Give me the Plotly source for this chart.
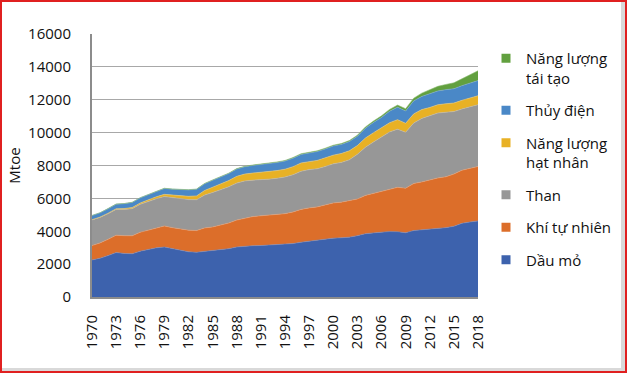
import plotly.graph_objects as go

W, H = 627, 373

years = list(range(1970, 2019))

oil = [2250, 2360, 2520, 2700, 2650, 2630, 2790, 2890, 2990, 3040,
       2930, 2820, 2750, 2720, 2780, 2800, 2880, 2940, 3040, 3090,
       3120, 3130, 3160, 3160, 3200, 3250, 3330, 3400, 3430, 3510,
       3580, 3600, 3640, 3730, 3850, 3900, 3940, 3980, 3970, 3910,
       4040, 4080, 4130, 4180, 4220, 4300, 4480, 4560, 4630]

gas = [880, 930, 990, 1060, 1080, 1095, 1150, 1190, 1230, 1280,
       1290, 1310, 1315, 1320, 1420, 1460, 1490, 1560, 1640, 1710,
       1770, 1810, 1820, 1850, 1870, 1920, 2000, 2020, 2050, 2090,
       2140, 2170, 2210, 2230, 2330, 2400, 2470, 2580, 2700, 2710,
       2860, 2920, 3000, 3060, 3090, 3180, 3230, 3270, 3310]

coal = [1560, 1550, 1560, 1570, 1600, 1650, 1700, 1740, 1760, 1790,
        1820, 1850, 1860, 1880, 2000, 2100, 2150, 2200, 2250, 2260,
        2220, 2190, 2190, 2210, 2230, 2270, 2320, 2330, 2320, 2340,
        2380, 2420, 2500, 2720, 2930, 3130, 3300, 3480, 3540, 3400,
        3680, 3860, 3900, 3950, 3930, 3800, 3730, 3740, 3760]

nuclear = [15, 20, 30, 40, 50, 70, 80, 100, 120, 135,
           150, 180, 200, 230, 280, 320, 350, 380, 410, 420,
           430, 450, 455, 470, 475, 490, 505, 500, 510, 525,
           530, 540, 545, 535, 560, 565, 570, 560, 580, 545,
           560, 540, 500, 505, 515, 520, 525, 530, 545]

hydro = [250, 260, 275, 280, 300, 310, 315, 320, 340, 360,
         370, 380, 390, 400, 410, 420, 425, 430, 445, 445,
         460, 470, 470, 490, 495, 515, 520, 530, 535, 540,
         555, 550, 560, 565, 600, 625, 645, 700, 760, 750,
         790, 800, 830, 840, 860, 870, 890, 900, 920]

renew = [5, 5, 5, 6, 6, 7, 7, 8, 8, 9,
         10, 12, 14, 16, 18, 20, 22, 24, 26, 28,
         30, 32, 34, 36, 38, 40, 42, 44, 46, 48,
         50, 55, 60, 65, 75, 85, 95, 110, 125, 140,
         165, 200, 240, 280, 315, 360, 420, 500, 600]

series_names = ["Dầu mỏ", "Khí tự nhiên", "Than", "Năng lượng<br>hạt nhân",
                "Thủy điện", "Năng lượng<br>tái tạo"]
series_values = [oil, gas, coal, nuclear, hydro, renew]
colors = ["#3d62ad", "#dc6e2a", "#979797", "#e8b125", "#4a88c7", "#62a03f"]
edge_colors = ["#6a86c2", "#e99a6a", "#b5b5b5", "#efc86a", "#7aa7d6", "#8cbb72"]

y_ticks = list(range(0, 16001, 2000))
x_ticks = list(range(1970, 2019, 3))

FONT = "Open Sans, Noto Sans, DejaVu Sans, sans-serif"

fig = go.Figure()
for name, vals, col, ecol in zip(series_names, series_values, colors, edge_colors):
    fig.add_trace(go.Scatter(
        x=years, y=vals, name=name, stackgroup="one", mode="lines",
        line=dict(width=0.6, color=ecol), fillcolor=col,
        showlegend=False, hoverinfo="skip",
    ))

# legend entries as small squares (top of the stack listed first)
order = list(range(len(series_names)))[::-1]
for k, i in enumerate(order):
    fig.add_trace(go.Scatter(
        x=[None], y=[None], name=series_names[i], mode="markers",
        marker=dict(symbol="square", size=9, color=colors[i]),
        legendgroup="g%d" % k, showlegend=True,
    ))

def px_x(x):
    return x / W

def px_y(y):
    return 1 - y / H

fig.update_layout(
    width=W, height=H,
    margin=dict(l=0, r=0, t=0, b=0),
    paper_bgcolor="white", plot_bgcolor="white",
    font=dict(family=FONT, size=15, color="#111111"),
    xaxis=dict(
        domain=[px_x(92), px_x(478)],
        range=[1970, 2018],
        tickmode="array", tickvals=x_ticks, ticktext=[str(v) for v in x_ticks],
        tickangle=-90, showgrid=False, zeroline=False,
        showline=True, linecolor="#8c8c8c", linewidth=2,
        ticks="", ticklabelstandoff=10, automargin=False,
        tickfont=dict(size=15),
    ),
    yaxis=dict(
        domain=[px_y(297), px_y(34)],
        range=[0, 16000],
        tickmode="array", tickvals=y_ticks, ticktext=[str(v) for v in y_ticks],
        showgrid=True, gridcolor="#a8a8a8", gridwidth=1,
        zeroline=False, showline=True, linecolor="#8c8c8c", linewidth=2,
        ticks="", ticklabelstandoff=16, automargin=False,
        title=dict(text="Mtoe", standoff=4, font=dict(size=15)),
        tickfont=dict(size=15),
    ),
    legend=dict(
        x=px_x(486), y=px_y(42), xanchor="left", yanchor="top",
        traceorder="grouped", tracegroupgap=10, valign="top",
        font=dict(size=15, color="#111111"), bgcolor="rgba(0,0,0,0)",
    ),
    shapes=[
        dict(type="rect", xref="paper", yref="paper",
             x0=px_x(621), x1=px_x(625), y0=px_y(371), y1=px_y(1),
             fillcolor="#d9d9d9", line=dict(width=0), layer="above"),
        dict(type="rect", xref="paper", yref="paper",
             x0=px_x(1), x1=px_x(625), y0=px_y(371), y1=px_y(368),
             fillcolor="#d9d9d9", line=dict(width=0), layer="above"),
        dict(type="rect", xref="paper", yref="paper",
             x0=px_x(1), x1=px_x(626), y0=px_y(372), y1=px_y(1),
             fillcolor="rgba(0,0,0,0)", line=dict(color="#e02020", width=2),
             layer="above"),
    ],
)

fig.write_html("out.html", config={"displayModeBar": False},
               post_script="document.body.style.margin='0';")
